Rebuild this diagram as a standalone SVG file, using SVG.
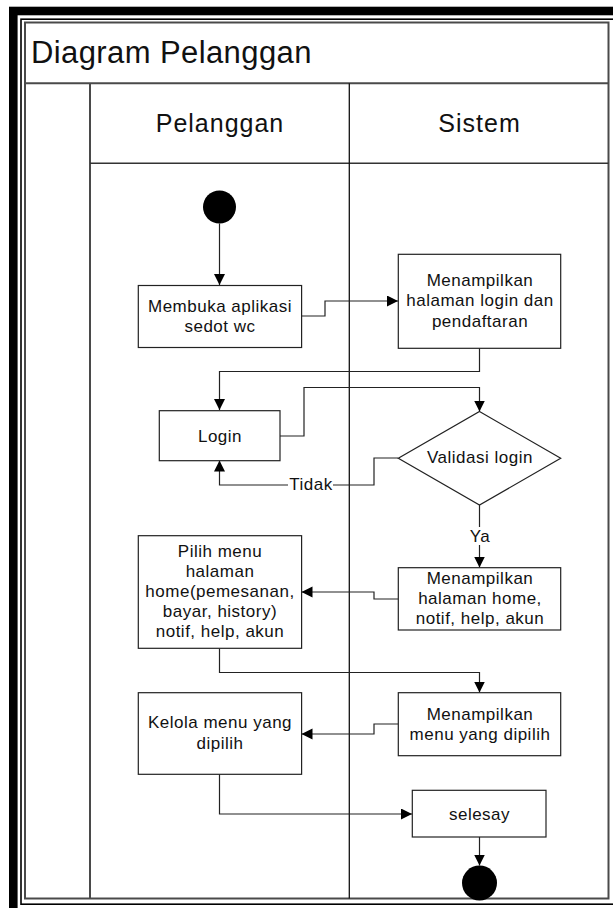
<svg xmlns="http://www.w3.org/2000/svg" width="613" height="908" viewBox="0 0 613 908">
  <defs>
    <marker id="arrow" markerUnits="userSpaceOnUse" markerWidth="12" markerHeight="12" refX="11" refY="5.5" orient="auto">
      <path d="M0,0 L11,5.5 L0,11 z" fill="#000"/>
    </marker>
    <style>
      text { font-family: "Liberation Sans", Arial, sans-serif; fill: #111; }
      .title { font-size: 31px; letter-spacing: 0.4px; }
      .lane { font-size: 25px; letter-spacing: 1px; text-anchor: middle; }
      .lbl { font-size: 17px; letter-spacing: 0.5px; text-anchor: middle; }
      .box { fill: #fff; stroke: #222; stroke-width: 1.2; }
      .grid { fill: none; stroke: #4a4a4a; stroke-width: 2; }
      .conn path { fill: none; stroke: #222; stroke-width: 1.2; marker-end: url(#arrow); }
      .dot { fill: #000; }
    </style>
  </defs>

  <rect width="613" height="908" fill="#fff"/>

  <!-- double frame -->
  <rect x="13.3" y="11" width="606" height="902" fill="none" stroke="#000" stroke-width="8.6"/>
  <rect x="21" y="19.2" width="593" height="885" fill="none" stroke="#000" stroke-width="1.6"/>

  <!-- pool and lanes -->
  <g id="pool">
    <rect class="grid" x="25" y="22.5" width="583.5" height="876"/>
    <line class="grid" x1="25" y1="83.3" x2="608.5" y2="83.3"/>
    <line class="grid" x1="90" y1="83.3" x2="90" y2="898.5"/>
    <line x1="90" y1="163.3" x2="608.5" y2="163.3" stroke="#333" stroke-width="1.5"/>
    <line x1="349.3" y1="83.3" x2="349.3" y2="898.5" stroke="#111" stroke-width="1.3"/>
    <text class="title" x="31" y="63">Diagram Pelanggan</text>
    <text class="lane" x="220" y="132">Pelanggan</text>
    <text class="lane" x="479.5" y="132">Sistem</text>
  </g>

  <!-- connectors -->
  <g id="connectors" class="conn">
    <path d="M219.5,223.5 V285"/>
    <path d="M301.5,316 H325 V301 H398"/>
    <path d="M479.5,348 V371.5 H219.5 V410"/>
    <path d="M280,436 H304 V387.5 H479.5 V411.5"/>
    <path d="M398,458 H374 V485 H219.5 V460.5"/>
    <path d="M479.5,505 V567.5"/>
    <path d="M398,599 H374 V592 H301.5"/>
    <path d="M219.5,648.5 V672.5 H479.5 V692.5"/>
    <path d="M398,724 H374 V734 H301.5"/>
    <path d="M219.5,774 V814 H412"/>
    <path d="M479.5,837 V865.5"/>
    <!-- guard labels -->
    <rect x="288" y="475" width="45" height="19" fill="#fff"/>
    <text class="lbl" x="311" y="490">Tidak</text>
    <rect x="467" y="527" width="25" height="18" fill="#fff"/>
    <text class="lbl" x="480" y="541.5">Ya</text>
  </g>

  <!-- nodes -->
  <g id="start">
    <circle class="dot" cx="219.5" cy="207" r="16.5"/>
  </g>

  <g id="buka-aplikasi">
    <rect class="box" x="138.3" y="285.5" width="163.3" height="62"/>
    <text class="lbl" x="220" y="311.5">Membuka aplikasi</text>
    <text class="lbl" x="220" y="331.5">sedot wc</text>
  </g>

  <g id="tampil-login">
    <rect class="box" x="398.3" y="254.3" width="162.4" height="94"/>
    <text class="lbl" x="480" y="285.5">Menampilkan</text>
    <text class="lbl" x="480" y="306.3">halaman login dan</text>
    <text class="lbl" x="480" y="327">pendaftaran</text>
  </g>

  <g id="login">
    <rect class="box" x="159.3" y="410.7" width="120.7" height="50"/>
    <text class="lbl" x="220" y="441.5">Login</text>
  </g>

  <g id="validasi-login">
    <polygon class="box" points="479.5,411.5 560.7,458.3 479.5,505 398.3,458.3"/>
    <text class="lbl" x="480" y="462.5">Validasi login</text>
  </g>

  <g id="tampil-home">
    <rect class="box" x="398.3" y="567.7" width="162.4" height="62.3"/>
    <text class="lbl" x="480" y="583.5">Menampilkan</text>
    <text class="lbl" x="480" y="603.5">halaman home,</text>
    <text class="lbl" x="480" y="623.5">notif, help, akun</text>
  </g>

  <g id="pilih-menu">
    <rect class="box" x="138.3" y="535.7" width="163.3" height="112.6"/>
    <text class="lbl" x="220" y="556.5">Pilih menu</text>
    <text class="lbl" x="220" y="576.5">halaman</text>
    <text class="lbl" x="220" y="596.5">home(pemesanan,</text>
    <text class="lbl" x="220" y="616.5">bayar, history)</text>
    <text class="lbl" x="220" y="636.5">notif, help, akun</text>
  </g>

  <g id="tampil-menu">
    <rect class="box" x="398.3" y="692.7" width="162.4" height="63"/>
    <text class="lbl" x="480" y="720">Menampilkan</text>
    <text class="lbl" x="480" y="740">menu yang dipilih</text>
  </g>

  <g id="kelola-menu">
    <rect class="box" x="138.3" y="692.7" width="163.3" height="81.6"/>
    <text class="lbl" x="220" y="728.3">Kelola menu yang</text>
    <text class="lbl" x="220" y="748.8">dipilih</text>
  </g>

  <g id="selesay">
    <rect class="box" x="412.3" y="790.3" width="133.7" height="46.7"/>
    <text class="lbl" x="479.5" y="820">selesay</text>
  </g>

  <g id="end">
    <circle class="dot" cx="479.5" cy="883" r="17.5"/>
  </g>
</svg>
